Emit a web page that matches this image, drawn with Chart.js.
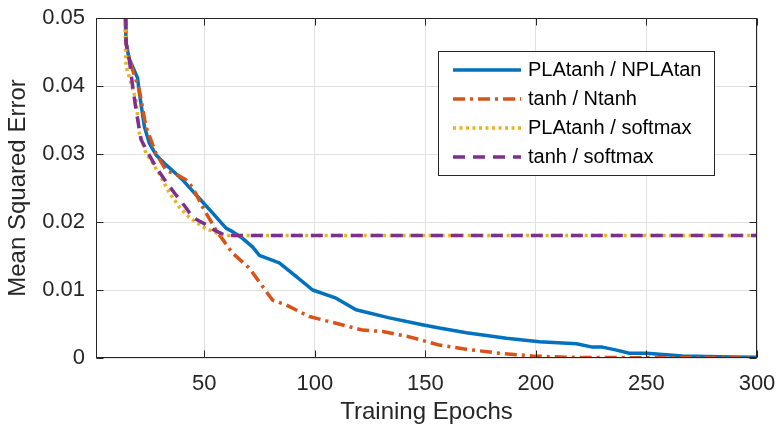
<!DOCTYPE html>
<html>
<head>
<meta charset="utf-8">
<script src="https://cdn.jsdelivr.net/npm/chart.js@4.4.1/dist/chart.umd.min.js"></script>
<style>
  html, body { margin: 0; padding: 0; background: #fff; }
  #wrap { width: 776px; height: 429px; }
</style>
</head>
<body>
<div id="wrap"><canvas id="myChart" width="776" height="429"></canvas></div>
<script>
// values (epoch, mean squared error)
const xTicks = [50, 100, 150, 200, 250, 300];
const yTicks = [0, 0.01, 0.02, 0.03, 0.04, 0.05];
const yTickLabels = ['0', '0.01', '0.02', '0.03', '0.04', '0.05'];
const seriesNames = ['PLAtanh / NPLAtan', 'tanh / Ntanh', 'PLAtanh / softmax', 'tanh / softmax'];

// PLAtanh / NPLAtan
const plaEpoch = [13.5, 14.6, 16, 19.8, 20.6, 22.9, 25.1, 28.1, 32.7, 37.2, 40.2, 43.2, 48.5, 53.8, 59.8, 62.1, 67.3, 71.9, 74.9, 83.9, 91.5, 99, 109.6, 118.6, 133.7, 148.6, 156.3, 168.6, 186.7, 201.6, 218.3, 225.6, 230, 236, 242.3, 250, 266.3, 289, 300];
const plaMse = [0.058, 0.0463, 0.044, 0.0412, 0.039, 0.034, 0.0316, 0.0299, 0.0284, 0.0271, 0.0262, 0.0251, 0.0232, 0.0213, 0.0191, 0.0187, 0.0176, 0.0163, 0.0151, 0.014, 0.012, 0.010, 0.0088, 0.0071, 0.0059, 0.0049, 0.0044, 0.0037, 0.0029, 0.0024, 0.0021, 0.0016, 0.0016, 0.0012, 0.0007, 0.0007, 0.0003, 0.00015, 0.0001];

// tanh / Ntanh
const ntEpoch = [13.8, 14.6, 16.1, 20.6, 23.6, 28.1, 32.7, 37.9, 41.7, 44.7, 49.2, 55.3, 62.8, 70.4, 76.4, 80.9, 87, 97.5, 109.6, 121.6, 130.7, 142.8, 156.3, 168.4, 183.5, 198.4, 213.8, 243.7, 300];
const ntMse = [0.058, 0.0463, 0.0438, 0.0394, 0.034, 0.0301, 0.0276, 0.0269, 0.0262, 0.0251, 0.0222, 0.0188, 0.0154, 0.0132, 0.0105, 0.0085, 0.0078, 0.0061, 0.0051, 0.0041, 0.0039, 0.0031, 0.0019, 0.0013, 0.0007, 0.0003, 0.0001, 0.00005, 0];

// PLAtanh / softmax
const plsEpoch = [13.6, 14.6, 16.1, 19.1, 20.6, 23.6, 26.6, 30.4, 34.2, 38.7, 43.2, 49.2, 55.3, 59.8, 300];
const plsMse = [0.056, 0.0428, 0.0413, 0.0379, 0.0331, 0.0301, 0.0287, 0.0266, 0.0243, 0.0222, 0.0207, 0.0193, 0.0184, 0.018, 0.018];

// tanh / softmax
const tsEpoch = [14.4, 14.6, 16.1, 17.6, 19.1, 21.4, 24.3, 28.1, 32.7, 36.4, 41.7, 44.7, 50.8, 54.5, 59.8, 300];
const tsMse = [0.056, 0.0463, 0.0438, 0.0399, 0.0365, 0.0321, 0.0303, 0.0281, 0.0259, 0.0243, 0.0221, 0.0207, 0.0196, 0.0188, 0.018, 0.018];

const font = "'Liberation Sans', Arial, Helvetica, sans-serif";
const textColor = '#262626';
const gridColor = '#e0e0e0';

function pts(xs, ys) {
  return xs.map((v, i) => ({ x: v, y: ys[i] }));
}

// box, inner ticks and legend like the matlab figure
const axesBox = {
  id: 'axesBox',
  afterDraw(chart) {
    const ctx = chart.ctx;
    const a = chart.chartArea;
    const sx = chart.scales.x, sy = chart.scales.y;
    const L = Math.round(a.left) + 0.5, R = Math.round(a.right) - 0.5;
    const T = Math.round(a.top) + 0.5, B = Math.round(a.bottom) - 0.5;
    const tl = 7;
    ctx.save();
    ctx.strokeStyle = textColor;
    ctx.lineWidth = 1;
    ctx.strokeRect(L, T, R - L, B - T);
    ctx.beginPath();
    xTicks.forEach(v => {
      const px = Math.round(sx.getPixelForValue(v)) + 0.5;
      ctx.moveTo(px, B); ctx.lineTo(px, B - tl);
      ctx.moveTo(px, T); ctx.lineTo(px, T + tl);
    });
    yTicks.forEach(v => {
      const py = Math.round(sy.getPixelForValue(v)) + 0.5;
      ctx.moveTo(L, py); ctx.lineTo(L + tl, py);
      ctx.moveTo(R, py); ctx.lineTo(R - tl, py);
    });
    ctx.stroke();

    // legend
    const bx = 438.5, by = 51.5, bw = 276, bh = 124;
    ctx.fillStyle = '#fff';
    ctx.fillRect(bx, by, bw, bh);
    ctx.strokeStyle = textColor;
    ctx.strokeRect(bx, by, bw, bh);
    chart.data.datasets.forEach((ds, i) => {
      const yy = 70 + i * 29;
      ctx.strokeStyle = ds.borderColor;
      ctx.lineWidth = ds.borderWidth;
      ctx.setLineDash(ds.borderDash || []);
      ctx.beginPath();
      ctx.moveTo(453, yy); ctx.lineTo(521, yy);
      ctx.stroke();
      ctx.setLineDash([]);
      ctx.fillStyle = '#000';
      ctx.font = '20px ' + font;
      ctx.textBaseline = 'middle';
      ctx.textAlign = 'left';
      ctx.fillText(seriesNames[i], 528, yy);
    });
    ctx.restore();
  }
};

const ctx = document.getElementById('myChart');

new Chart(ctx, {
  type: 'line',
  data: {
    datasets: [
      { label: seriesNames[0], data: pts(plaEpoch, plaMse), borderColor: '#0072BD', borderWidth: 3.5, order: 3 },
      { label: seriesNames[1], data: pts(ntEpoch, ntMse), borderColor: '#D95319', borderWidth: 3.5, borderDash: [12, 5, 3, 5], order: 2 },
      { label: seriesNames[2], data: pts(plsEpoch, plsMse), borderColor: '#EDB120', borderWidth: 3.5, borderDash: [3, 3.5], order: 1 },
      { label: seriesNames[3], data: pts(tsEpoch, tsMse), borderColor: '#7E2F8E', borderWidth: 3.5, borderDash: [12, 8], order: 0 }
    ]
  },
  options: {
    responsive: false,
    animation: false,
    devicePixelRatio: 1,
    layout: { padding: { top: 18, right: 19, left: 0, bottom: 0 } },
    plugins: { legend: { display: false }, tooltip: { enabled: false } },
    elements: {
      point: { radius: 0 },
      line: { tension: 0, borderJoinStyle: 'round', fill: false }
    },
    scales: {
      x: {
        type: 'linear', min: 1, max: 300,
        afterBuildTicks: s => { s.ticks = xTicks.map(v => ({ value: v })); },
        afterFit: s => { s.height = 71; s.paddingLeft = 0; s.paddingRight = 0; },
        grid: { color: gridColor, drawTicks: false },
        border: { display: false },
        ticks: { font: { family: font, size: 22 }, color: textColor, padding: 13, maxRotation: 0 },
        title: { display: true, text: 'Training Epochs', font: { family: font, size: 24 }, color: textColor, padding: { top: 0, bottom: 2 } }
      },
      y: {
        type: 'linear', min: 0, max: 0.05,
        afterBuildTicks: s => { s.ticks = yTicks.map(v => ({ value: v })); },
        afterFit: s => { s.width = 96; s.paddingTop = 0; s.paddingBottom = 0; },
        grid: { color: gridColor, drawTicks: false },
        border: { display: false },
        ticks: { font: { family: font, size: 22 }, color: textColor, padding: 11, callback: (v, i) => yTickLabels[i] },
        title: { display: true, text: 'Mean Squared Error', font: { family: font, size: 24 }, color: textColor, padding: { top: 4, bottom: 0 } }
      }
    }
  },
  plugins: [axesBox]
});
</script>
</body>
</html>
